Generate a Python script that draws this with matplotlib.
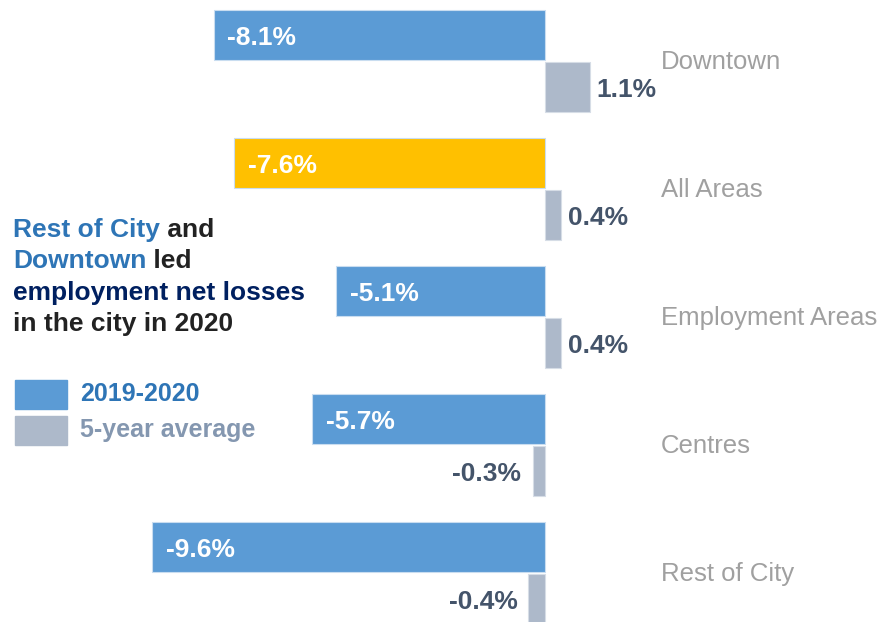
import matplotlib.pyplot as plt
import numpy as np

plt.rcParams['font.family'] = ['Liberation Sans', 'DejaVu Sans']

areas = ['Downtown', 'All Areas', 'Employment Areas', 'Centres', 'Rest of City']
change_2020 = np.array([-8.1, -7.6, -5.1, -5.7, -9.6])
five_year_avg = np.array([1.1, 0.4, 0.4, -0.3, -0.4])

blue = '#5B9BD5'
gold = '#FFC000'
grey = '#ADB9CA'
label_dark = '#44546A'
cat_grey = '#A0A0A0'

fig = plt.figure(figsize=(8.95, 6.22), dpi=100)
ax = fig.add_axes([0, 0, 1, 1])

# zero line sits at ~61% of the width, groups spaced evenly top to bottom
ax.set_xlim(-13.32, 8.56)
ax.set_ylim(4.383, -0.477)
ax.axis('off')

y = np.arange(len(areas))
h = 0.39
gap = 0.008
blue_centres = y - gap - h / 2
grey_centres = y + gap + h / 2
bar_colors = [gold if a == 'All Areas' else blue for a in areas]

ax.barh(blue_centres, change_2020, height=h, color=bar_colors,
        edgecolor='#C9DDF0', linewidth=0.8)
ax.barh(grey_centres, five_year_avg, height=h, color=grey,
        edgecolor='#D6DDE6', linewidth=0.8)

for yc, v in zip(blue_centres, change_2020):
    ax.annotate(f'{v:.1f}%', xy=(v, yc), xytext=(10, -2), textcoords='offset points',
                ha='left', va='center', color='white', fontsize=19, fontweight='bold')

for yc, v in zip(grey_centres, five_year_avg):
    if v >= 0:
        ax.annotate(f'{v:.1f}%', xy=(v, yc), xytext=(5, -2), textcoords='offset points',
                    ha='left', va='center', color=label_dark, fontsize=19, fontweight='bold')
    else:
        ax.annotate(f'{v:.1f}%', xy=(v, yc), xytext=(-8, -2), textcoords='offset points',
                    ha='right', va='center', color=label_dark, fontsize=19, fontweight='bold')

for yi, name in zip(y, areas):
    ax.text(0.7385, yi + 0.01, name, transform=ax.get_yaxis_transform(), ha='left',
            va='center', color=cat_grey, fontsize=18.5)

# headline, mixed colours per line
title_blue = '#2E75B6'
navy = '#002060'
black = '#222222'
headline = [
    [('Rest of City', title_blue), (' and', black)],
    [('Downtown', title_blue), (' led', black)],
    [('employment net losses', navy)],
    [('in the city in 2020', black)],
]
line_px = [230, 261, 293, 324]
for parts, py in zip(headline, line_px):
    prev = None
    for txt, col in parts:
        if prev is None:
            prev = fig.text(13 / 895, 1 - py / 622, txt, ha='left', va='center',
                            color=col, fontsize=19, fontweight='bold')
        else:
            prev = ax.annotate(txt, xy=(1, 0), xycoords=prev, ha='left', va='bottom',
                               color=col, fontsize=19, fontweight='bold')

# legend
legend_items = [('2019-2020', blue, title_blue, 394), ('5-year average', grey, '#8497B0', 430)]
for lab, fc, tc, py in legend_items:
    fig.patches.append(plt.Rectangle((15 / 895, 1 - (py + 15) / 622), 52 / 895, 29 / 622,
                                     transform=fig.transFigure, color=fc, figure=fig))
    fig.text(80 / 895, 1 - py / 622, lab, ha='left', va='center', color=tc,
             fontsize=18, fontweight='bold')

fig.savefig('out.png', dpi=100)
